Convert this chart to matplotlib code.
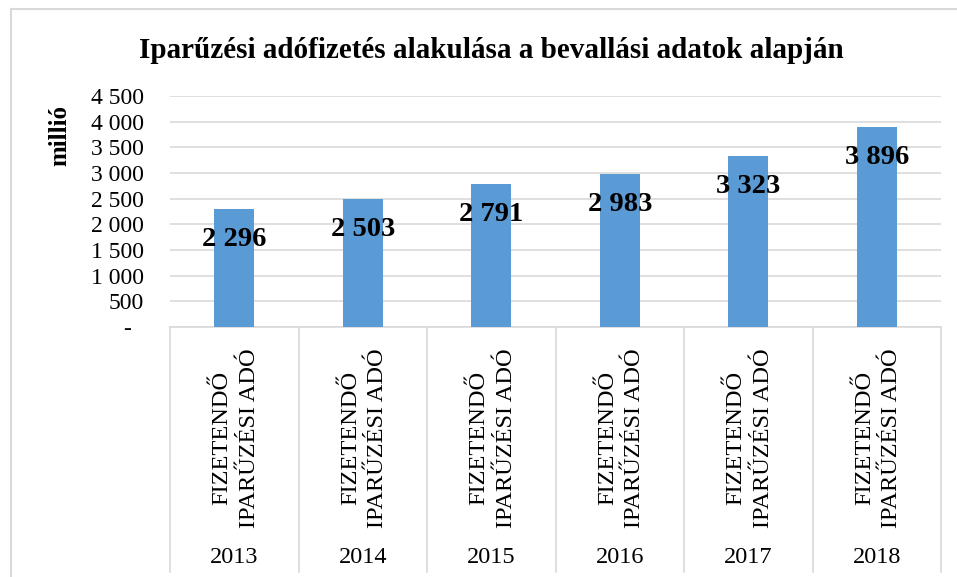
import matplotlib
matplotlib.use("Agg")
import matplotlib.pyplot as plt
from matplotlib.lines import Line2D

# Adatok
years = ["2013", "2014", "2015", "2016", "2017", "2018"]
category = "FIZETENDŐ\nIPARŰZÉSI ADÓ"
values = [2296, 2503, 2791, 2983, 3323, 3896]
y_ticks = [0, 500, 1000, 1500, 2000, 2500, 3000, 3500, 4000, 4500]

plt.rcParams["font.family"] = ["Liberation Serif", "DejaVu Serif"]

W, H = 957, 577
fig = plt.figure(figsize=(W / 100, H / 100), dpi=100)

# plot area in pixels: left 170, right 941, top 96, bottom 327
ax = fig.add_axes([170 / W, (H - 327) / H, (941 - 170) / W, (327 - 96) / H])

x = list(range(len(years)))
ax.bar(x, values, width=0.31, color="#5B9BD5", zorder=3)

ax.set_xlim(-0.5, len(years) - 0.5)
ax.set_ylim(0, 4500)
ax.set_yticks(y_ticks)


def fmt(v):
    if v == 0:
        return "-  "
    return f"{v:,.0f}".replace(",", " ")


ax.set_yticklabels([fmt(v) for v in y_ticks], fontsize=17)
ax.tick_params(axis="y", length=0, pad=19)
ax.set_xticks([])
ax.grid(axis="y", color="#d9d9d9", linewidth=1.2, zorder=0)
for s in ["top", "right", "left"]:
    ax.spines[s].set_visible(False)
ax.spines["bottom"].set_color("#d9d9d9")
ax.spines["bottom"].set_linewidth(1.2)

# adatcímkék
for i, v in enumerate(values):
    ax.annotate(fmt(v), (i, v), xytext=(0, -22), textcoords="offset points",
                ha="center", va="center", fontsize=20.5, fontweight="bold", zorder=4)

# többszintű kategóriatengely
tr = ax.get_xaxis_transform()
cat_texts = []
for i, yr in enumerate(years):
    t = ax.text(i + 0.01, -0.48, category, transform=tr, rotation=90, ha="center", va="center",
                multialignment="center", fontsize=20, linespacing=1.4)
    cat_texts.append(t)
    ax.text(i, -0.996, yr, transform=tr, ha="center", va="center", fontsize=17.5)
for b in [k - 0.5 for k in range(len(years) + 1)]:
    ax.plot([b, b], [0, -1.06], transform=tr, color="#d9d9d9", linewidth=1.2, clip_on=False)

# a forgatott felirat hossza a mintán kb. 180 px, közepe 438 px
fig.canvas.draw()
r = fig.canvas.get_renderer()
bb = cat_texts[0].get_window_extent(r)
size = 20 * 180 / bb.height
for t in cat_texts:
    t.set_fontsize(size)
fig.canvas.draw()
bb = cat_texts[0].get_window_extent(r)
cy = (bb.y0 + bb.y1) / 2  # pixel from bottom
shift = ((H - 438) - cy) / ax.bbox.height
for t in cat_texts:
    px, py = t.get_position()
    t.set_position((px, py + shift))

# címek
fig.text(491 / W, 1 - 50 / H, "Iparűzési adófizetés alakulása a bevallási adatok alapján",
         ha="center", va="center", fontsize=21, fontweight="bold")
fig.text(60 / W, 1 - 135 / H, "millió", rotation=90, ha="center", va="center",
         fontsize=18, fontweight="bold")

# diagram kerete
fig.add_artist(Line2D([11 / W, 1], [1 - 9 / H, 1 - 9 / H], color="#d9d9d9", linewidth=1.5))
fig.add_artist(Line2D([11 / W, 11 / W], [0, 1 - 9 / H], color="#d9d9d9", linewidth=1.5))

fig.savefig("out.png", dpi=100)
